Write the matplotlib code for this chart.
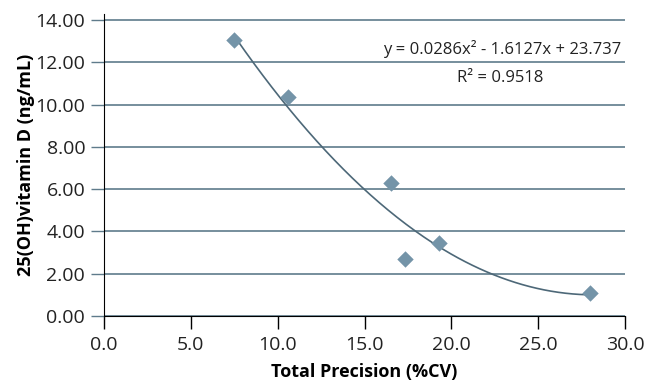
import numpy as np
import matplotlib.pyplot as plt

plt.rcParams['font.family'] = ['Open Sans', 'DejaVu Sans']

# measured points
cv = [7.5, 10.6, 16.5, 17.3, 19.3, 28.0]
vitd = [13.05, 10.35, 6.3, 2.7, 3.45, 1.1]

# Excel polynomial trendline coefficients (from the label)
coef = [0.0286, -1.6127, 23.737]
r2 = 0.9518

xticks = [0.0, 5.0, 10.0, 15.0, 20.0, 25.0, 30.0]
yticks = [0.0, 2.0, 4.0, 6.0, 8.0, 10.0, 12.0, 14.0]

grid_col = '#5f7b8b'

fig = plt.figure(figsize=(6.54, 3.84), dpi=100)
ax = fig.add_axes([0.159, 0.177, 0.797, 0.786])

ax.set_xlim(0, 30)
ax.set_ylim(0, 14.28)
ax.set_xticks(xticks)
ax.set_yticks(yticks)
ax.set_xticklabels([f"{v:.1f}" for v in xticks])
ax.set_yticklabels([f"{v:.2f}" for v in yticks])

ax.grid(axis='y', color=grid_col, linewidth=1.2)
ax.set_axisbelow(True)
for s in ['top', 'right']:
    ax.spines[s].set_visible(False)
ax.spines['left'].set_color('black')
ax.spines['bottom'].set_color('black')
ax.tick_params(axis='both', direction='out', length=9.5, width=1,
               labelsize=14, labelcolor='#222222', pad=4)
ax.tick_params(axis='x', colors='black', labelcolor='#222222', pad=5)
ax.tick_params(axis='y', colors=grid_col, labelcolor='#222222')

xs = np.linspace(min(cv), max(cv), 200)
ax.plot(xs, np.polyval(coef, xs), color='#4d6878', linewidth=1.2, zorder=3)
ax.scatter(cv, vitd, marker='D', s=70, color='#7494a8', zorder=4, linewidths=0)

ax.text(0.992, 0.884, "y = 0.0286x² - 1.6127x + 23.737", transform=ax.transAxes,
        ha='right', va='center', fontsize=12, color='#222222')
ax.text(0.76, 0.79, f"R² = {r2}", transform=ax.transAxes,
        ha='center', va='center', fontsize=12, color='#222222')

ax.set_xlabel("Total Precision (%CV)", fontsize=13, fontweight='bold', labelpad=6)
ax.set_ylabel("25(OH)vitamin D (ng/mL)", fontsize=13, fontweight='bold', labelpad=0)

fig.savefig("out.png", dpi=100)
